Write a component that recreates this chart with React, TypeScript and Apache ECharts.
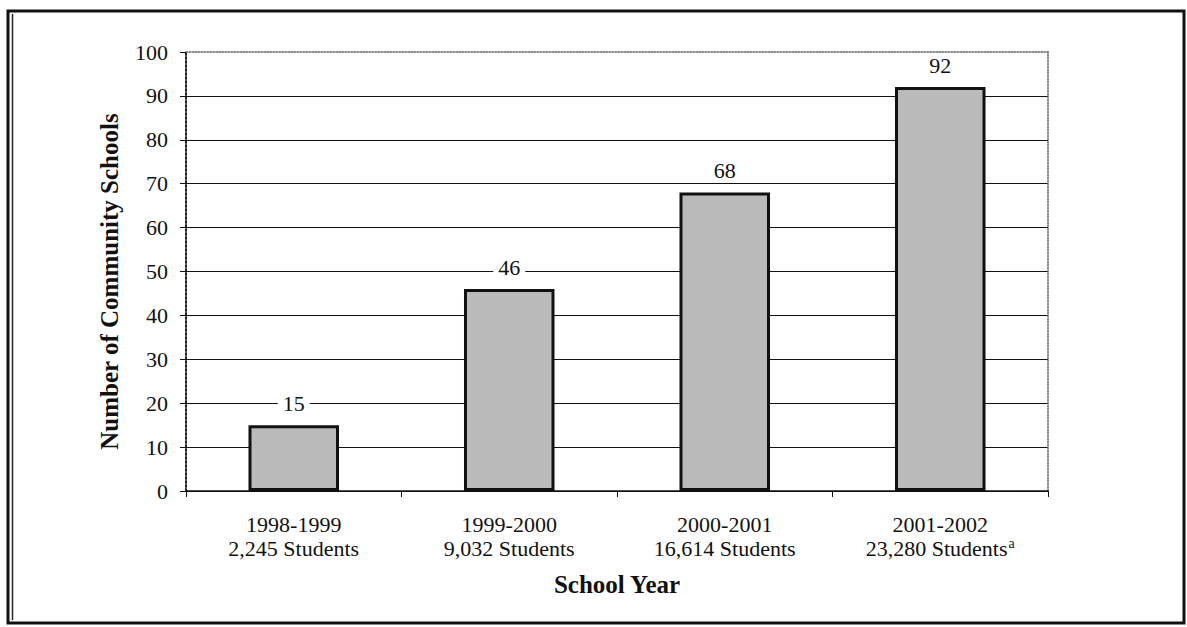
import React, { useEffect, useRef } from "react";
import * as echarts from "echarts";

// School years on the x axis and enrolment shown beneath each year
const schoolYears = ["1998-1999", "1999-2000", "2000-2001", "2001-2002"];
const studentCounts = ["2,245", "9,032", "16,614", "23,280"];
const footnotes = ["", "", "", "a"];
// Number of community schools per year
const schoolCounts = [15, 46, 68, 92];

const yTicks = [0, 10, 20, 30, 40, 50, 60, 70, 80, 90, 100];

const SERIF = "'Liberation Serif', 'Times New Roman', serif";

export default function App() {
  const ref = useRef<HTMLDivElement>(null);

  useEffect(() => {
    if (!ref.current) return;
    const chart = echarts.init(ref.current, undefined, { renderer: "svg" });

    // Grid lines: solid black inside, top line left to the dotted frame axis
    const splitColors = yTicks.map((t) => (t === yTicks[yTicks.length - 1] ? "transparent" : "#111"));

    chart.setOption({
      animation: false,
      backgroundColor: "#fff",
      textStyle: { fontFamily: SERIF },
      grid: { left: 186, right: 139, top: 52, bottom: 136 },
      xAxis: [
        {
          type: "category",
          data: schoolYears,
          boundaryGap: true,
          name: "School Year",
          nameLocation: "middle",
          nameGap: 81,
          nameTextStyle: { fontFamily: SERIF, fontSize: 25, fontWeight: "bold", color: "#111" },
          axisLine: { lineStyle: { color: "#111", width: 1.5 } },
          axisTick: { show: true, length: 6, lineStyle: { color: "#111" } },
          axisLabel: {
            interval: 0,
            margin: 21,
            fontFamily: SERIF,
            fontSize: 22,
            lineHeight: 24,
            color: "#111",
            formatter: (v: string, i: number) => {
              const sup = footnotes[i] ? `{sup|${footnotes[i]}}` : "";
              return `${v}\n${studentCounts[i]} Students${sup}`;
            },
            rich: {
              sup: { fontFamily: SERIF, fontSize: 14, verticalAlign: "top", color: "#111", padding: [0, 0, 8, 1] },
            },
          },
          splitLine: { show: false },
        },
        {
          // dotted top edge of the plot frame
          type: "value",
          position: "top",
          min: 0,
          max: 1,
          axisLine: { show: true, onZero: false, lineStyle: { color: "#666", type: "dotted", width: 1.5 } },
          axisTick: { show: false },
          axisLabel: { show: false },
          splitLine: { show: false },
        },
      ],
      yAxis: [
        {
          type: "value",
          min: 0,
          max: 100,
          interval: 10,
          name: "Number of Community Schools",
          nameLocation: "middle",
          nameGap: 64,
          nameTextStyle: {
            fontFamily: SERIF,
            fontSize: 25,
            fontWeight: "bold",
            color: "#111",
            padding: [0, 20, 0, 0],
          },
          axisLine: { show: true, lineStyle: { color: "#222", type: "dotted", width: 2 } },
          axisTick: { show: true, length: 6, lineStyle: { color: "#111" } },
          axisLabel: { margin: 18, fontFamily: SERIF, fontSize: 22, color: "#111" },
          splitLine: { show: true, lineStyle: { color: splitColors, width: 1 } },
        },
        {
          // dotted right edge of the plot frame
          type: "value",
          position: "right",
          min: 0,
          max: 1,
          axisLine: { show: true, onZero: false, lineStyle: { color: "#666", type: "dotted", width: 1.5 } },
          axisTick: { show: false },
          axisLabel: { show: false },
          splitLine: { show: false },
        },
      ],
      series: [
        {
          type: "bar",
          data: schoolCounts,
          xAxisIndex: 0,
          yAxisIndex: 0,
          barWidth: "42%",
          itemStyle: { color: "#bababa", borderColor: "#111", borderWidth: 3 },
          label: {
            show: true,
            position: "top",
            distance: 11,
            fontFamily: SERIF,
            fontSize: 22,
            color: "#111",
            backgroundColor: "#fff",
            padding: [1, 5, 0, 5],
          },
        },
      ],
      graphic: [
        {
          type: "rect",
          shape: { x: 8, y: 11, width: 1176, height: 612 },
          style: { fill: "none", stroke: "#111", lineWidth: 3 },
          silent: true,
        },
        {
          type: "line",
          shape: { x1: 12.5, y1: 14, x2: 12.5, y2: 620 },
          style: { stroke: "#222", lineWidth: 1.5 },
          silent: true,
        },
      ],
    });

    return () => chart.dispose();
  }, []);

  return (
    <div
      ref={ref}
      style={{ position: "fixed", left: 0, top: 0, width: 1187, height: 627, background: "#fff" }}
    />
  );
}
